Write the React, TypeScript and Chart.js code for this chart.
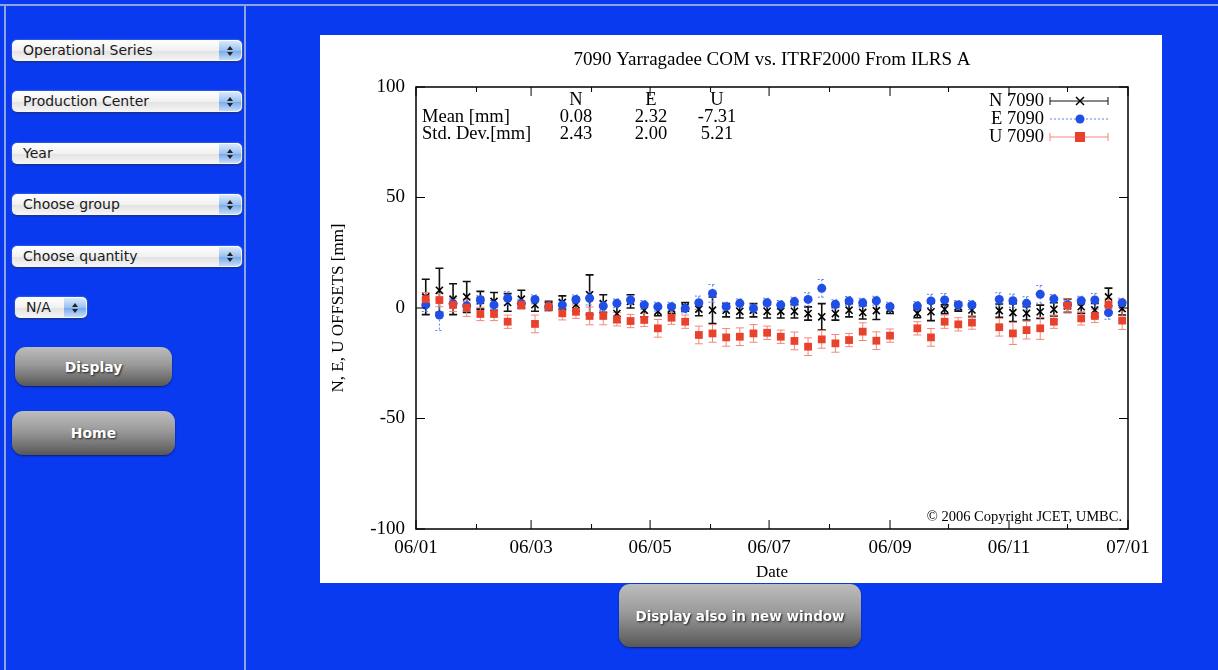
import React, { useEffect, useRef } from "react";
import { Chart, registerables } from "chart.js";

Chart.register(...registerables);

// ---------------- data ----------------
const chartTitle = "7090 Yarragadee COM vs. ITRF2000 From ILRS A";
const seriesLabels = ["N 7090", "E 7090", "U 7090"];
const xAxisTitle = "Date";
const yAxisTitle = "N, E, U OFFSETS [mm]";
const copyrightText = "\u00A9 2006 Copyright JCET, UMBC.";

// day of year (2006) of each weekly solution
const obsDays = [5, 12, 19, 26, 33, 40, 47, 54, 61, 68, 75, 82, 89, 96, 103, 110, 117, 124, 131, 138, 145, 152, 159, 166, 173, 180, 187, 194, 201, 208, 215, 222, 229, 236, 243, 257, 264, 271, 278, 285, 299, 306, 313, 320, 327, 334, 341, 348, 355, 362];

const nValues = [5, 8, 4, 5, 3.5, 3, 2.5, 4, 1.5, 1, 2.5, 1.5, 6, 2, -2.5, 3, -1, -1.5, -0.5, 0.5, -0.5, -1, -1, -1.5, -1, -1.5, -1.5, -1.5, -2.5, -4, -2.5, -1, -2, -1.2, -0.5, -2.4, -1.7, -0.6, 0.6, -0.9, -1.2, -2.1, -2.4, -1.7, -0.6, 1, 0.6, -0.9, 5, -0.2];
const eValues = [1.4, -3.2, 2, 1, 3.6, 1.4, 4.4, 2, 3.9, 0.6, 1.4, 3.9, 4.4, 0.9, 2.1, 3.6, 1.4, 0.6, 0.6, -0.2, 2.4, 6.6, 0.6, 2.1, -0.2, 2.4, 1.4, 2.9, 3.9, 8.9, 1.7, 3.2, 2.4, 3.3, 0.6, 0.9, 3.2, 3.6, 1.4, 1.4, 3.9, 3.3, 2.1, 6.2, 4.1, 1.5, 3.3, 3.6, -2.1, 2.4];
const uValues = [4, 3.6, 1.4, 0.2, -2.7, -2.7, -6.2, 1.4, -7.2, 0.6, -2.4, -1.7, -3.6, -3.6, -5.1, -5.9, -5.4, -9.2, -4.4, -6.2, -12.2, -11.5, -13.3, -13, -11.5, -11.2, -13, -14.9, -17.5, -14.2, -16, -14.5, -10.7, -14.8, -12.5, -9.2, -13.3, -6.2, -7.4, -6.6, -8.7, -11.5, -10, -9.2, -6.2, 1.1, -4.7, -3.6, 1.4, -5.7];

const nErrors = [8, 10, 7, 7, 4, 4, 4, 4, 3, 2, 3, 3, 9, 4, 4, 3, 3, 2, 2, 2, 3, 6, 3, 3, 3, 3, 3, 3, 3, 6, 3, 3, 3, 4, 2, 2, 4, 2, 2, 3, 3, 4, 3, 3, 3, 3, 3, 3, 4, 3];
const eErrors = [3, 7, 2, 2, 2, 2, 3, 2, 2, 2, 2, 2, 3, 2, 2, 2, 2, 2, 2, 2, 3, 4, 2, 2, 2, 2, 2, 2, 3, 4, 2, 2, 2, 2, 2, 2, 3, 3, 2, 2, 3, 3, 3, 4, 2, 2, 2, 3, 3, 2];
const uErrors = [3, 3, 3, 4, 3, 3, 3, 2, 4, 2, 3, 3, 4, 4, 3, 3, 3, 4, 3, 3, 4, 4, 4, 4, 4, 3, 3, 4, 4, 4, 4, 3, 4, 4, 3, 3, 4, 3, 3, 3, 4, 5, 4, 5, 3, 3, 3, 3, 3, 4];

const statHeaders = ["N", "E", "U"];
const statRowLabels = ["Mean [mm]", "Std. Dev.[mm]"];
const statMeans = ["0.08", "2.32", "-7.31"];
const statStdDevs = ["2.43", "2.00", "5.21"];

const xTickDays = [0, 59, 120, 181, 243, 304, 365];
const xTickLabels = ["06/01", "06/03", "06/05", "06/07", "06/09", "06/11", "07/01"];
const xMinorTickDays = [31, 90, 151, 212, 273, 334];
const yTickValues = [-100, -50, 0, 50, 100];

const menuLabels = ["Operational Series", "Production Center", "Year", "Choose group", "Choose quantity"];

// ---------------- styles ----------------
const SERIF = "'Liberation Serif', 'Times New Roman', serif";
const seriesColors = ["#000000", "#1f4fe6", "#e8412c"];
const errColors = ["#111111", "#5a7ff0", "#f3877a"];

const errorBarPlugin = {
  id: "errorBars",
  beforeDatasetsDraw(chart: any) {
    const { ctx, chartArea } = chart;
    const xs = chart.scales.x;
    const ys = chart.scales.y;
    const vals = [nValues, eValues, uValues];
    const errs = [nErrors, eErrors, uErrors];
    ctx.save();
    ctx.beginPath();
    ctx.rect(chartArea.left, chartArea.top, chartArea.right - chartArea.left, chartArea.bottom - chartArea.top);
    ctx.clip();
    for (let s = 0; s < 3; s++) {
      ctx.strokeStyle = errColors[s];
      ctx.lineWidth = s === 0 ? 1.6 : 1;
      ctx.setLineDash(s === 1 ? [2, 2] : []);
      for (let j = 0; j < obsDays.length; j++) {
        const x = xs.getPixelForValue(obsDays[j]);
        const y1 = ys.getPixelForValue(vals[s][j] + errs[s][j]);
        const y2 = ys.getPixelForValue(vals[s][j] - errs[s][j]);
        ctx.beginPath();
        ctx.moveTo(x, y1);
        ctx.lineTo(x, y2);
        ctx.moveTo(x - 4, y1);
        ctx.lineTo(x + 4, y1);
        ctx.moveTo(x - 4, y2);
        ctx.lineTo(x + 4, y2);
        ctx.stroke();
      }
    }
    ctx.restore();
  },
};

const framePlugin = {
  id: "frame",
  afterDatasetsDraw(chart: any) {
    const { ctx, chartArea } = chart;
    const { left, right, top, bottom } = chartArea;
    const xs = chart.scales.x;
    const ys = chart.scales.y;
    ctx.save();
    ctx.strokeStyle = "#000";
    ctx.lineWidth = 1.5;
    ctx.strokeRect(left, top, right - left, bottom - top);
    ctx.lineWidth = 1;
    ctx.beginPath();
    xTickDays.forEach((d) => {
      const x = xs.getPixelForValue(d);
      ctx.moveTo(x, bottom);
      ctx.lineTo(x, bottom - 9);
      ctx.moveTo(x, top);
      ctx.lineTo(x, top + 9);
    });
    xMinorTickDays.forEach((d) => {
      const x = xs.getPixelForValue(d);
      ctx.moveTo(x, bottom);
      ctx.lineTo(x, bottom - 5);
      ctx.moveTo(x, top);
      ctx.lineTo(x, top + 5);
    });
    yTickValues.forEach((v) => {
      const y = ys.getPixelForValue(v);
      ctx.moveTo(left, y);
      ctx.lineTo(left + 9, y);
      ctx.moveTo(right, y);
      ctx.lineTo(right - 9, y);
    });
    ctx.stroke();
    ctx.restore();
  },
};

function drawMarker(ctx: any, s: number, x: number, y: number) {
  ctx.save();
  if (s === 0) {
    ctx.strokeStyle = seriesColors[0];
    ctx.lineWidth = 1.5;
    ctx.beginPath();
    ctx.moveTo(x - 4, y - 4);
    ctx.lineTo(x + 4, y + 4);
    ctx.moveTo(x - 4, y + 4);
    ctx.lineTo(x + 4, y - 4);
    ctx.stroke();
  } else if (s === 1) {
    ctx.fillStyle = seriesColors[1];
    ctx.beginPath();
    ctx.arc(x, y, 4.5, 0, Math.PI * 2);
    ctx.fill();
  } else {
    ctx.fillStyle = seriesColors[2];
    ctx.fillRect(x - 5, y - 5, 10, 10);
  }
  ctx.restore();
}

const textPlugin = {
  id: "texts",
  afterDraw(chart: any) {
    const { ctx, chartArea } = chart;
    const { left, right, top, bottom } = chartArea;
    ctx.save();
    ctx.fillStyle = "#000";
    ctx.textBaseline = "middle";
    // title
    ctx.font = `19px ${SERIF}`;
    ctx.textAlign = "center";
    ctx.fillText(chartTitle, (left + right) / 2, 25);
    // stats table
    ctx.font = `18.5px ${SERIF}`;
    const cols = [160, 235, 301];
    statHeaders.forEach((h, i) => ctx.fillText(h, left + cols[i], top + 13));
    statMeans.forEach((v, i) => ctx.fillText(v, left + cols[i], top + 30));
    statStdDevs.forEach((v, i) => ctx.fillText(v, left + cols[i], top + 47));
    ctx.textAlign = "left";
    ctx.fillText(statRowLabels[0], left + 6, top + 30);
    ctx.fillText(statRowLabels[1], left + 6, top + 47);
    // legend
    seriesLabels.forEach((lab, s) => {
      const y = top + 14 + s * 18;
      ctx.textAlign = "right";
      ctx.fillStyle = "#000";
      ctx.fillText(lab, right - 84, y);
      const x1 = right - 78;
      const x2 = right - 20;
      ctx.save();
      ctx.strokeStyle = errColors[s];
      ctx.lineWidth = 1;
      ctx.setLineDash(s === 1 ? [2, 2] : []);
      ctx.beginPath();
      ctx.moveTo(x1, y);
      ctx.lineTo(x2, y);
      if (s !== 1) {
        ctx.moveTo(x1, y - 4);
        ctx.lineTo(x1, y + 4);
        ctx.moveTo(x2, y - 4);
        ctx.lineTo(x2, y + 4);
      }
      ctx.stroke();
      ctx.restore();
      drawMarker(ctx, s, right - 48, y);
    });
    // copyright
    ctx.font = `14.5px ${SERIF}`;
    ctx.textAlign = "right";
    ctx.fillStyle = "#000";
    ctx.fillText(copyrightText, right - 6, bottom - 12);
    ctx.restore();
  },
};

function ChartPanel() {
  const ref = useRef<HTMLCanvasElement | null>(null);
  useEffect(() => {
    if (!ref.current) return;
    const mk = (vals: number[]) => obsDays.map((d, i) => ({ x: d, y: vals[i] }));
    const chart = new Chart(ref.current, {
      type: "scatter",
      data: {
        datasets: [
          {
            label: seriesLabels[0],
            data: mk(nValues),
            pointStyle: "crossRot",
            pointRadius: 5,
            borderWidth: 1.6,
            borderColor: seriesColors[0],
            backgroundColor: seriesColors[0],
            order: 2,
          },
          {
            label: seriesLabels[1],
            data: mk(eValues),
            pointStyle: "circle",
            pointRadius: 4.5,
            borderWidth: 0,
            borderColor: seriesColors[1],
            backgroundColor: seriesColors[1],
            order: 1,
          },
          {
            label: seriesLabels[2],
            data: mk(uValues),
            pointStyle: "rect",
            pointRadius: 5.5,
            borderWidth: 0,
            borderColor: seriesColors[2],
            backgroundColor: seriesColors[2],
            order: 0,
          },
        ],
      },
      options: {
        responsive: false,
        animation: false,
        events: [],
        layout: { padding: { top: 52, right: 34, left: 0, bottom: 0 } },
        plugins: { legend: { display: false }, tooltip: { enabled: false }, title: { display: false } },
        scales: {
          x: {
            type: "linear",
            min: 0,
            max: 365,
            grid: { display: false, drawTicks: false },
            border: { display: false },
            afterBuildTicks: (scale: any) => {
              scale.ticks = xTickDays.map((v) => ({ value: v }));
            },
            afterFit: (scale: any) => {
              scale.height = 54;
            },
            ticks: {
              padding: 8,
              color: "#000",
              font: { family: SERIF, size: 19 },
              maxRotation: 0,
              autoSkip: false,
              callback: (v: any) => {
                const i = xTickDays.indexOf(Number(v));
                return i >= 0 ? xTickLabels[i] : "";
              },
            },
            title: {
              display: true,
              text: xAxisTitle,
              color: "#000",
              font: { family: SERIF, size: 17 },
              padding: { top: 0, bottom: 0 },
            },
          },
          y: {
            min: -100,
            max: 100,
            grid: { display: false, drawTicks: false },
            border: { display: false },
            afterBuildTicks: (scale: any) => {
              scale.ticks = yTickValues.map((v) => ({ value: v }));
            },
            afterFit: (scale: any) => {
              scale.width = 96;
            },
            ticks: {
              padding: 11,
              color: "#000",
              font: { family: SERIF, size: 19 },
              callback: (v: any) => String(v),
            },
            title: {
              display: true,
              text: yAxisTitle,
              color: "#000",
              font: { family: SERIF, size: 17 },
              padding: { top: 8, bottom: 0 },
            },
          },
        },
      },
      plugins: [errorBarPlugin, framePlugin, textPlugin],
    } as any);
    return () => chart.destroy();
  }, []);
  return <canvas ref={ref} width={842} height={548} style={{ display: "block" }} />;
}

const UI_FONT = "'DejaVu Sans', 'Noto Sans', sans-serif";

function Arrows() {
  return (
    <svg width="8" height="12" viewBox="0 0 8 12" style={{ position: "absolute", left: "50%", top: "50%", marginLeft: -4, marginTop: -6 }}>
      <polygon points="4,1 7,5 1,5" fill="#222" />
      <polygon points="1,7 7,7 4,11" fill="#222" />
    </svg>
  );
}

function FakeSelect({ label, left, top, width, height }: any) {
  return (
    <div
      style={{
        position: "absolute",
        left,
        top,
        width,
        height,
        borderRadius: 5,
        background: "linear-gradient(#ffffff 0%, #f1f1f1 50%, #e2e2e2 52%, #f6f6f6 100%)",
        boxShadow: "0 1px 2px rgba(0,0,0,0.55), 0 0 2px rgba(160,200,255,0.8)",
        fontFamily: UI_FONT,
        fontSize: 14,
        color: "#1a1a1a",
        lineHeight: `${height}px`,
        paddingLeft: 11,
        boxSizing: "border-box",
        whiteSpace: "nowrap",
      }}
    >
      {label}
      <div
        style={{
          position: "absolute",
          right: 1,
          top: 1,
          width: 22,
          height: height - 2,
          borderRadius: "0 5px 5px 0",
          background: "linear-gradient(#d8e9fc 0%, #9cc2f0 50%, #78a9ea 52%, #c4dcf8 100%)",
        }}
      >
        <Arrows />
      </div>
    </div>
  );
}

function GrayButton({ label, left, top, width, height, fontSize }: any) {
  return (
    <div
      style={{
        position: "absolute",
        left,
        top,
        width,
        height,
        borderRadius: 11,
        background: "linear-gradient(#bdbdbd 0%, #9a9a9a 45%, #6a6a6a 85%, #575757 100%)",
        boxShadow: "0 1px 2px rgba(0,0,0,0.5)",
        color: "#fff",
        fontFamily: UI_FONT,
        fontWeight: "bold",
        fontSize,
        display: "flex",
        alignItems: "center",
        justifyContent: "center",
        textShadow: "1px 1px 2px #222",
      }}
    >
      {label}
    </div>
  );
}

export default function App() {
  const selTops = [40, 91, 143, 194, 246];
  return (
    <div style={{ position: "absolute", left: 0, top: 0, width: 1218, height: 670, background: "#0a3af0", overflow: "hidden" }}>
      <div style={{ position: "absolute", left: 0, top: 4, width: 1218, height: 2, background: "#8ea4dc" }} />
      <div style={{ position: "absolute", left: 4, top: 4, width: 2, height: 670, background: "#8ea4dc" }} />
      <div style={{ position: "absolute", left: 244, top: 4, width: 2, height: 670, background: "#8ea4dc" }} />
      {menuLabels.map((m, i) => (
        <FakeSelect key={m} label={m} left={12} top={selTops[i]} width={230} height={21} />
      ))}
      <FakeSelect label="N/A" left={15} top={297} width={72} height={21} />
      <GrayButton label="Display" left={15} top={347} width={157} height={39} fontSize={14} />
      <GrayButton label="Home" left={12} top={411} width={163} height={44} fontSize={14} />
      <div style={{ position: "absolute", left: 320, top: 35, width: 842, height: 548, background: "#fff" }}>
        <ChartPanel />
      </div>
      <GrayButton label="Display also in new window" left={619} top={584} width={242} height={63} fontSize={13.5} />
    </div>
  );
}
